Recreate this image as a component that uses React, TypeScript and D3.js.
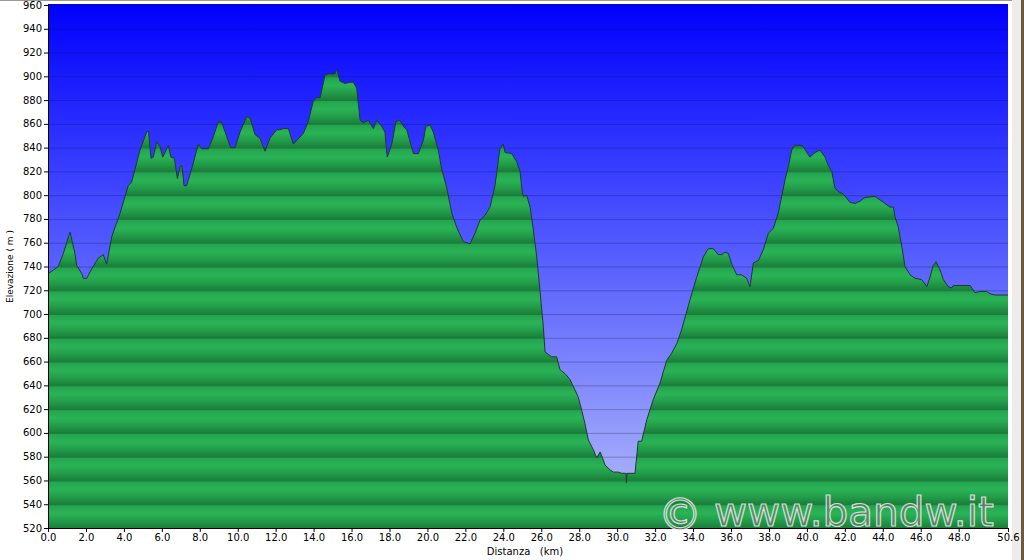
import React from "react";
import * as d3 from "d3";

const distKm = [0.0,0.28,0.54,0.81,1.16,1.42,1.51,1.78,1.86,2.04,2.30,2.65,2.91,3.09,3.36,3.80,4.23,4.41,4.85,5.20,5.29,5.43,5.55,5.73,5.90,6.05,6.34,6.48,6.66,6.82,6.96,7.06,7.17,7.31,7.66,7.92,8.10,8.45,8.71,8.98,9.16,9.63,9.86,10.12,10.47,10.65,10.91,11.17,11.44,11.70,12.05,12.23,12.40,12.67,12.93,13.11,13.46,13.72,13.98,14.16,14.34,14.60,14.77,15.13,15.22,15.30,15.39,15.65,15.92,16.09,16.27,16.45,16.62,16.88,17.15,17.33,17.59,17.76,17.88,18.12,18.34,18.55,18.73,18.91,19.26,19.52,19.78,19.92,20.14,20.31,20.57,20.75,21.02,21.28,21.54,21.89,22.24,22.51,22.77,23.03,23.30,23.56,23.82,24.00,24.09,24.44,24.71,24.88,24.97,25.05,25.23,25.41,25.58,25.76,25.93,26.11,26.20,26.46,26.55,26.81,26.99,27.25,27.51,27.78,27.95,28.13,28.30,28.48,28.74,28.92,29.10,29.18,29.36,29.62,29.80,30.06,30.24,30.47,30.49,30.52,30.85,30.94,31.11,31.29,31.56,31.90,32.26,32.61,32.87,33.14,33.40,33.84,34.19,34.54,34.80,35.07,35.33,35.51,35.68,35.86,36.04,36.30,36.56,36.83,37.00,37.18,37.44,37.70,37.97,38.23,38.49,38.67,38.85,39.02,39.20,39.37,39.64,39.81,39.99,40.16,40.43,40.69,40.96,41.13,41.31,41.48,41.66,41.92,42.27,42.54,42.80,43.06,43.59,44.03,44.38,44.56,44.64,44.82,45.00,45.17,45.44,45.70,46.05,46.32,46.49,46.66,46.81,47.02,47.19,47.45,47.63,47.72,48.60,48.86,49.13,49.48,49.65,49.92,50.6];

const elevM = [734,737,740,751,769,751,741,734,730,730,738,747,750,742,765,785,808,811,838,853,854,831,832,845,841,832,842,832,831,814,824,825,808,808,827,843,839,839,849,862,861,840,840,853,866,865,851,848,837,848,855,855,856,856,843,846,852,862,879,882,882,901,902,902,906,901,896,894,895,895,890,863,861,863,856,863,858,853,832,843,862,863,858,855,835,835,846,858,859,853,838,822,806,785,773,761,759,768,779,783,790,808,839,843,836,835,828,820,806,799,800,790,771,748,720,689,668,665,664,664,653,650,645,636,630,619,608,594,586,579,584,581,573,569,567,567,566,566,558,566,566,566,593,593,611,628,642,661,667,675,687,712,731,748,755,755,750,750,752,751,742,733,733,730,723,743,745,754,768,772,785,799,813,824,838,842,842,841,836,832,836,838,832,825,820,806,803,801,794,793,795,798,799,794,790,790,782,773,757,740,733,730,729,723,731,741,744,737,729,723,722,724,724,718,719,719,717,716,716];

const xTickValues = [0,2,4,6,8,10,12,14,16,18,20,22,24,26,28,30,32,34,36,38,40,42,44,46,48,50.6];
const yTickValues = d3.range(520, 961, 20);

const W = 1024, H = 560;
const L = 48, R = 1008, T = 5, B = 528;

export default function App() {
  const x = d3.scaleLinear().domain([0, 50.6]).range([L, R]);
  const y = d3.scaleLinear().domain([520, 960]).range([B, T]);
  const pts = distKm.map((d, i) => [d, elevM[i]] as [number, number]);
  const area = d3.area<[number, number]>().x(d => x(d[0])).y0(B).y1(d => y(d[1]));
  const line = d3.line<[number, number]>().x(d => x(d[0])).y(d => y(d[1]));
  const band = y(520) - y(540);
  const font = "'DejaVu Sans', Verdana, sans-serif";
  return (
    <svg width={W} height={H} style={{ position: "absolute", left: 0, top: 0, background: "#fff" }}>
      <defs>
        <linearGradient id="sky" x1="0" y1="0" x2="0" y2="1">
          <stop offset="0%" stopColor="rgb(0,0,255)" />
          <stop offset="45%" stopColor="rgb(80,88,255)" />
          <stop offset="100%" stopColor="rgb(182,190,250)" />
        </linearGradient>
        <linearGradient id="bandg" x1="0" y1="0" x2="0" y2="1">
          <stop offset="0%" stopColor="rgb(36,160,76)" />
          <stop offset="38%" stopColor="rgb(42,180,86)" />
          <stop offset="72%" stopColor="rgb(34,154,72)" />
          <stop offset="100%" stopColor="rgb(26,126,58)" />
        </linearGradient>
        <pattern id="greenBands" patternUnits="userSpaceOnUse" x={0} y={T} width={W} height={band}>
          <rect x={0} y={0} width={W} height={band} fill="url(#bandg)" />
        </pattern>
      </defs>
      <rect x={0} y={0} width={W} height={H} fill="#fff" />
      <rect x={1012} y={0} width={12} height={H} fill="#ececec" />
      <rect x={1021} y={0} width={3} height={H} fill="#6a5a40" />
      <rect x={0} y={0} width={1012} height={1} fill="#999" />
      <rect x={L} y={T - 1} width={R - L} height={B - T + 1} fill="url(#sky)" />
      <path d={area(pts) || ""} fill="url(#greenBands)" />
      {yTickValues.slice(1).map(v => (
        <line key={"g" + v} x1={L} x2={R} y1={y(v) + 0.5} y2={y(v) + 0.5} stroke="rgba(0,20,30,0.25)" strokeWidth={1} />
      ))}
      <path d={line(pts) || ""} fill="none" stroke="#1e3a30" strokeWidth={1} />
      <line x1={L + 0.5} x2={L + 0.5} y1={T - 1} y2={B} stroke="#000" />
      <line x1={L} x2={R + 1} y1={B + 0.5} y2={B + 0.5} stroke="#000" />
      {yTickValues.map(v => (
        <g key={"y" + v}>
          <line x1={L - 4} x2={L} y1={y(v) + 0.5} y2={y(v) + 0.5} stroke="#000" />
          <text x={L - 6} y={y(v) + 3.5} textAnchor="end" fontSize={10} fontFamily={font} fill="#000">{v}</text>
        </g>
      ))}
      {xTickValues.map(v => (
        <g key={"x" + v}>
          <line x1={x(v) + 0.5} x2={x(v) + 0.5} y1={B} y2={B + 4} stroke="#000" />
          <text x={x(v) + 0.5} y={541} textAnchor="middle" fontSize={10} fontFamily={font} fill="#000">{v.toFixed(1)}</text>
        </g>
      ))}
      <text transform={`translate(13,${(T + B) / 2}) rotate(-90)`} textAnchor="middle" fontSize={9} fontFamily={font} fill="#000">Elevazione ( m )</text>
      <text x={525} y={555} textAnchor="middle" fontSize={10} fontFamily={font} fill="#000" style={{ whiteSpace: "pre" }}>Distanza   (km)</text>
      <g fontFamily={font} fill="rgba(120,120,120,0.65)" stroke="rgba(255,255,255,0.75)" strokeWidth={1.2}>
        <text x={658} y={530} fontSize={44}>©</text>
        <text x={714} y={526} fontSize={40.5}>www.bandw.it</text>
      </g>
    </svg>
  );
}
